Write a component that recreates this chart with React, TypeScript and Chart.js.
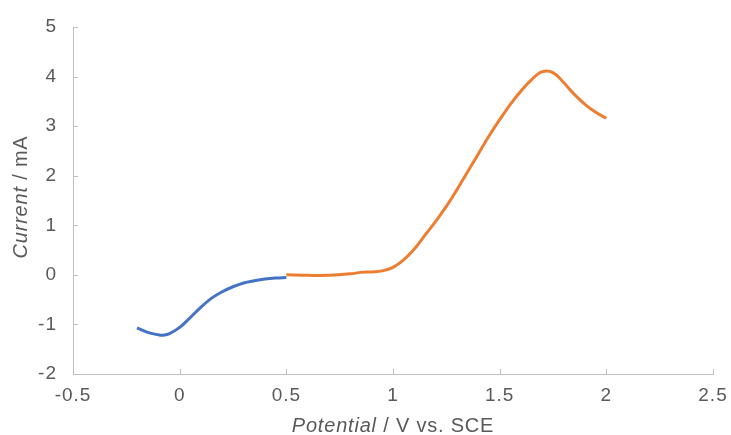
import React, { useEffect, useRef } from "react";
import { Chart, registerables } from "chart.js";

Chart.register(...registerables);

const blueX = [-0.2, -0.15, -0.1, -0.08, -0.05, 0, 0.05, 0.1, 0.15, 0.2, 0.25, 0.3, 0.35, 0.4, 0.45, 0.5];
const blueY = [-1.07, -1.16, -1.21, -1.22, -1.19, -1.06, -0.86, -0.65, -0.47, -0.34, -0.24, -0.165, -0.12, -0.085, -0.065, -0.055];

const orangeX = [0.5, 0.6, 0.7, 0.8, 0.85, 0.9, 0.95, 1.0, 1.05, 1.1, 1.15, 1.2, 1.25, 1.3, 1.35, 1.4, 1.45, 1.5, 1.55, 1.6, 1.65, 1.7, 1.75, 1.8, 1.85, 1.9, 1.95, 2.0];
const orangeY = [0, -0.01, -0.01, 0.02, 0.05, 0.06, 0.08, 0.15, 0.3, 0.52, 0.8, 1.08, 1.38, 1.72, 2.08, 2.44, 2.8, 3.13, 3.44, 3.71, 3.94, 4.1, 4.08, 3.88, 3.64, 3.44, 3.28, 3.16];

const xMin = -0.5;
const xMax = 2.5;
const xStep = 0.5;
const yMin = -2;
const yMax = 5;
const yStep = 1;

const xTitleItalic = "Potential";
const xTitleRest = " / V vs. SCE";
const yTitleItalic = "Current";
const yTitleRest = " / mA";

const TEXT = "#595959";
const AXIS = "#bfbfbf";
const FONT = "Liberation Sans, Arial, sans-serif";
const FS = 19;
const TFS = 20;

const decorPlugin = {
  id: "decor",
  beforeDraw(chart: any) {
    chart.ctx.letterSpacing = "1px";
  },
  afterDraw(chart: any) {
    const { ctx, chartArea, scales } = chart;
    const xs = scales.x;
    const ys = scales.y;
    ctx.save();
    ctx.strokeStyle = AXIS;
    ctx.lineWidth = 1;
    ctx.beginPath();
    xs.ticks.forEach((_t: any, i: number) => {
      const px = Math.round(xs.getPixelForTick(i)) + 0.5;
      ctx.moveTo(px, chartArea.bottom);
      ctx.lineTo(px, chartArea.bottom - 5);
    });
    ys.ticks.forEach((_t: any, i: number) => {
      const py = Math.round(ys.getPixelForTick(i)) + 0.5;
      ctx.moveTo(chartArea.left, py);
      ctx.lineTo(chartArea.left + 5, py);
    });
    ctx.stroke();

    ctx.fillStyle = TEXT;
    ctx.textBaseline = "middle";
    ctx.letterSpacing = "0.8px";
    const drawMixed = (a: string, b: string) => {
      ctx.font = `italic ${TFS}px ${FONT}`;
      const wa = ctx.measureText(a).width;
      ctx.font = `${TFS}px ${FONT}`;
      const wb = ctx.measureText(b).width;
      const total = wa + wb;
      ctx.textAlign = "left";
      ctx.font = `italic ${TFS}px ${FONT}`;
      ctx.fillText(a, -total / 2, 0);
      ctx.font = `${TFS}px ${FONT}`;
      ctx.fillText(b, -total / 2 + wa, 0);
    };
    ctx.save();
    ctx.translate((chartArea.left + chartArea.right) / 2, 426);
    drawMixed(xTitleItalic, xTitleRest);
    ctx.restore();
    ctx.save();
    ctx.translate(21, 197);
    ctx.rotate(-Math.PI / 2);
    drawMixed(yTitleItalic, yTitleRest);
    ctx.restore();
    ctx.restore();
  },
};

export default function App() {
  const ref = useRef<HTMLCanvasElement>(null);
  useEffect(() => {
    if (!ref.current) return;
    const chart = new Chart(ref.current, {
      type: "line",
      data: {
        datasets: [
          {
            label: "blue",
            data: blueX.map((x, i) => ({ x, y: blueY[i] })),
            borderColor: "#4472C4",
            borderWidth: 3,
            pointRadius: 0,
            tension: 0.4,
            fill: false,
          },
          {
            label: "orange",
            data: orangeX.map((x, i) => ({ x, y: orangeY[i] })),
            borderColor: "#ED7D31",
            borderWidth: 3,
            pointRadius: 0,
            tension: 0.4,
            fill: false,
          },
        ],
      },
      options: {
        animation: false,
        responsive: false,
        maintainAspectRatio: false,
        layout: { padding: { top: 27, right: 18, left: 0, bottom: 0 } },
        plugins: { legend: { display: false }, tooltip: { enabled: false } },
        scales: {
          x: {
            type: "linear",
            min: xMin,
            max: xMax,
            ticks: {
              stepSize: xStep,
              color: TEXT,
              font: { family: FONT, size: FS },
              padding: 10,
              maxRotation: 0,
              autoSkip: false,
              callback: (v: any) => String(Math.round(Number(v) * 10) / 10),
            },
            grid: { display: false, drawTicks: false },
            border: { display: true, color: AXIS, width: 1 },
            afterFit: (s: any) => {
              s.height = 435 - 374;
              s.paddingRight = 0;
              s.paddingLeft = 0;
            },
          },
          y: {
            type: "linear",
            min: yMin,
            max: yMax,
            ticks: {
              stepSize: yStep,
              color: TEXT,
              font: { family: FONT, size: FS },
              padding: 16,
            },
            grid: { display: false, drawTicks: false },
            border: { display: true, color: AXIS, width: 1 },
            afterFit: (s: any) => {
              s.width = 73;
              s.paddingTop = 0;
              s.paddingBottom = 0;
            },
          },
        },
      },
      plugins: [decorPlugin],
    } as any);
    return () => chart.destroy();
  }, []);
  return (
    <div style={{ position: "absolute", left: 0, top: 0, width: 731, height: 435, background: "#fff" }}>
      <canvas ref={ref} width={731} height={435} style={{ width: 731, height: 435 }} />
    </div>
  );
}
